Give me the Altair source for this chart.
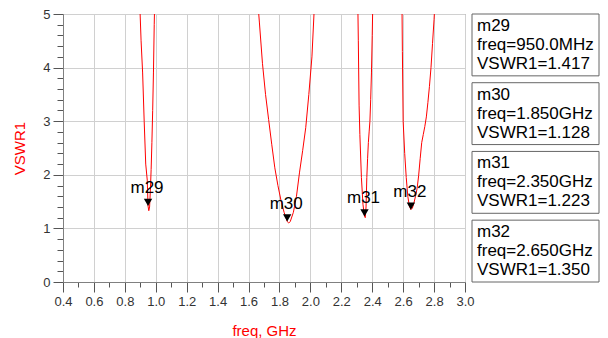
import altair as alt
import pandas as pd

# ---- curve data (freq in GHz, VSWR1) ----
seg1_freq = [0.895, 0.905, 0.915, 0.925, 0.935, 0.945, 0.95, 0.955, 0.96, 0.965, 0.97, 0.975, 0.98, 0.985, 0.99, 0.995]
seg1_vswr = [5.3, 4.5, 3.9, 3.0, 2.2, 1.9, 1.417, 1.33, 1.4, 1.7, 2.1, 2.6, 3.2, 3.9, 4.8, 5.5]

seg2_freq = [1.65, 1.67, 1.69, 1.71, 1.73, 1.75, 1.77, 1.79, 1.81, 1.83, 1.85, 1.86, 1.87, 1.89, 1.91, 1.93, 1.95, 1.97, 1.99, 2.01, 2.03]
seg2_vswr = [5.6, 4.85, 4.08, 3.5, 3.03, 2.57, 2.13, 1.8, 1.52, 1.3, 1.128, 1.10, 1.13, 1.3, 1.6, 2.05, 2.45, 2.88, 3.5, 4.2, 5.4]

seg3_freq = [2.305, 2.31, 2.315, 2.32, 2.33, 2.34, 2.35, 2.355, 2.36, 2.365, 2.37, 2.375, 2.38, 2.385, 2.39, 2.395, 2.40, 2.405]
seg3_vswr = [5.6, 4.5, 3.3, 2.75, 1.95, 1.45, 1.223, 1.2, 1.4, 1.95, 2.3, 2.6, 2.8, 3.0, 3.4, 3.9, 4.6, 5.4]

seg4_freq = [2.59, 2.595, 2.60, 2.61, 2.62, 2.63, 2.64, 2.65, 2.66, 2.67, 2.68, 2.69, 2.70, 2.71, 2.72, 2.73, 2.74, 2.75, 2.76, 2.77, 2.78, 2.79, 2.80, 2.81]
seg4_vswr = [6.0, 4.3, 3.0, 2.4, 1.95, 1.6, 1.42, 1.35, 1.38, 1.48, 1.6, 1.74, 1.98, 2.3, 2.6, 2.75, 2.9, 3.08, 3.35, 3.65, 4.0, 4.45, 4.9, 5.5]

# ---- markers ----
marker_names = ["m29", "m30", "m31", "m32"]
marker_freq = [0.95, 1.85, 2.35, 2.65]
marker_vswr = [1.417, 1.128, 1.223, 1.350]

# ---- tick values ----
x_ticks = [0.4, 0.5, 0.6, 0.7, 0.8, 0.9, 1.0, 1.1, 1.2, 1.3, 1.4, 1.5, 1.6, 1.7, 1.8,
           1.9, 2.0, 2.1, 2.2, 2.3, 2.4, 2.5, 2.6, 2.7, 2.8, 2.9, 3.0]
y_ticks = [0, 0.2, 0.4, 0.6, 0.8, 1, 1.2, 1.4, 1.6, 1.8, 2, 2.2, 2.4, 2.6, 2.8, 3,
           3.2, 3.4, 3.6, 3.8, 4, 4.2, 4.4, 4.6, 4.8, 5]

FONT = "Liberation Sans"

rows = []
for i, (fs, vs) in enumerate([(seg1_freq, seg1_vswr), (seg2_freq, seg2_vswr),
                               (seg3_freq, seg3_vswr), (seg4_freq, seg4_vswr)]):
    for f, v in zip(fs, vs):
        rows.append({"seg": i, "freq": f, "vswr": v})
curve_df = pd.DataFrame(rows)

marker_df = pd.DataFrame({"name": marker_names, "freq": marker_freq, "vswr": marker_vswr})


def freq_text(f):
    return f"freq={f * 1000:.1f}MHz" if f < 1 else f"freq={f:.3f}GHz"


leg_df = pd.DataFrame({
    "name": marker_names,
    "label": [f"{n}\n{freq_text(f)}\nVSWR1={v:.3f}" for n, f, v in zip(marker_names, marker_freq, marker_vswr)],
})

XMAJ = "round(datum.value*10) % 2 == 0"
YMAJ = "round(datum.value*5) % 5 == 0"

x_axis = alt.Axis(
    values=x_ticks, title="freq, GHz",
    labelExpr=f"{XMAJ} ? format(datum.value, '.1f') : ''",
    tickSize={"condition": {"test": XMAJ, "value": 10}, "value": 5},
    gridOpacity={"condition": {"test": XMAJ, "value": 1}, "value": 0},
    gridColor="#d0d0d0", domainColor="#808080", tickColor="#555555",
    labelColor="#333333", labelFont=FONT, labelFontSize=13, labelPadding=3,
    labelFlush=False, labelOverlap=False,
    titleColor="#ff0000", titleFont=FONT, titleFontSize=15, titleFontWeight="normal",
    titlePadding=15,
)
y_axis = alt.Axis(
    values=y_ticks, title="VSWR1",
    labelExpr=f"{YMAJ} ? format(datum.value, 'd') : ''",
    tickSize={"condition": {"test": YMAJ, "value": 10}, "value": 6},
    gridOpacity={"condition": {"test": YMAJ, "value": 1}, "value": 0},
    gridColor="#d0d0d0", domainColor="#808080", tickColor="#555555",
    labelColor="#333333", labelFont=FONT, labelFontSize=13, labelPadding=3,
    labelFlush=False, labelOverlap=False,
    titleColor="#ff0000", titleFont=FONT, titleFontSize=15, titleFontWeight="normal",
    titlePadding=15,
)

XS = alt.Scale(domain=[0.4, 3.0], nice=False, zero=False)
YS = alt.Scale(domain=[0, 5], nice=False, zero=False)
X = alt.X("freq:Q", scale=XS, axis=x_axis)
Y = alt.Y("vswr:Q", scale=YS, axis=y_axis)

line = alt.Chart(curve_df).mark_line(color="#ff0000", strokeWidth=1, clip=True).encode(
    x=X, y=Y, detail="seg:N")
tri = alt.Chart(marker_df).mark_point(shape="triangle-down", filled=True, color="black",
                                      size=70, opacity=1, yOffset=-3.6).encode(x=X, y=Y)
lab = alt.Chart(marker_df).mark_text(font=FONT, fontSize=17, color="black", dy=-18, dx=-1).encode(
    x=X, y=Y, text="name:N")

plot = alt.layer(line, tri, lab)

# marker readout boxes to the right of the plot area
YL = alt.Scale(paddingInner=0.1, paddingOuter=0)
rect = alt.Chart(leg_df).mark_rect(fill="white", stroke="#666666", strokeWidth=1).encode(
    y=alt.Y("name:N", scale=YL, axis=None, sort=None),
    x=alt.value(409), x2=alt.value(536))
txt = alt.Chart(leg_df).mark_text(align="left", baseline="alphabetic", lineBreak="\n",
                                  font=FONT, fontSize=17, lineHeight=19, dy=17,
                                  color="black").encode(
    y=alt.Y("name:N", scale=YL, axis=None, sort=None, bandPosition=0),
    x=alt.value(414), text="label:N")
legend = alt.layer(rect, txt)

chart = alt.layer(plot, legend).resolve_scale(y="independent").properties(
    width=402, height=268,
    autosize=alt.AutoSizeParams(type="none"),
    padding={"left": 55, "top": 6, "right": 135, "bottom": 56},
).configure_view(stroke="#808080")

chart.save("out.html", embed_options={"renderer": "svg", "actions": False})
